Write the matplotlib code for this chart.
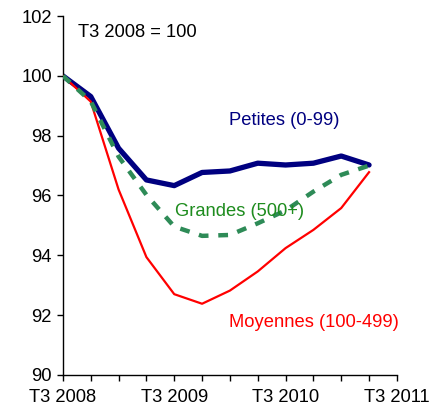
import matplotlib
matplotlib.use("Agg")
import matplotlib.pyplot as plt
import numpy as np

plt.rcParams['font.family'] = ['Liberation Sans', 'DejaVu Sans']

quarters = ["T3 2008", "T4 2008", "T1 2009", "T2 2009", "T3 2009", "T4 2009",
            "T1 2010", "T2 2010", "T3 2010", "T4 2010", "T1 2011", "T2 2011", "T3 2011"]
tick_labels = ["T3 2008", "T3 2009", "T3 2010", "T3 2011"]
petites = [100.0, 99.31, 97.58, 96.52, 96.33, 96.77, 96.82, 97.08, 97.02, 97.08, 97.32, 97.02]
moyennes = [100.0, 99.14, 96.2, 93.94, 92.70, 92.38, 92.82, 93.46, 94.24, 94.85, 95.58, 96.78]
grandes = [100.0, 99.15, 97.30, 96.02, 94.96, 94.65, 94.68, 95.07, 95.5, 96.13, 96.69, 97.0]

FS = 13.2

fig = plt.figure(figsize=(4.4, 4.12), dpi=100)
ax = fig.add_axes([0.143, 0.09, 0.759, 0.871])

x = np.arange(len(petites))
ax.plot(x, petites, color='#000080', lw=3.8, solid_capstyle='round', zorder=2)
ax.plot(x, moyennes, color='#FF0000', lw=1.6, zorder=3)
gl, = ax.plot(x, grandes, color='#2E8B57', lw=3.2, zorder=4)
gl.set_dashes([2.2, 2.2])

ax.set_xlim(0, 12)
ax.set_ylim(90, 102)
ax.set_yticks(np.arange(90, 103, 2))
ax.set_xticks(np.arange(0, 13, 1), minor=True)
ax.set_xticks([0, 4, 8, 12])
ax.set_xticklabels(tick_labels)
ax.tick_params(axis='x', which='both', length=4, width=1, direction='out', pad=6, labelsize=FS)
ax.tick_params(axis='y', length=4, width=1, direction='out', pad=4, labelsize=FS)
for s in ['top', 'right']:
    ax.spines[s].set_visible(False)
for s in ['left', 'bottom']:
    ax.spines[s].set_linewidth(1)

ax.text(0.55, 101.45, "T3 2008 = 100", fontsize=FS, color='black', va='center', ha='left')
ax.text(5.95, 98.5, "Petites (0-99)", fontsize=FS, color='#000080', va='center', ha='left')
ax.text(4.03, 95.45, "Grandes (500+)", fontsize=FS, color='#1E8C1E', va='center', ha='left', zorder=5)
ax.text(5.95, 91.75, "Moyennes (100-499)", fontsize=FS, color='#FF0000', va='center', ha='left')

fig.savefig("out.png", dpi=100)
